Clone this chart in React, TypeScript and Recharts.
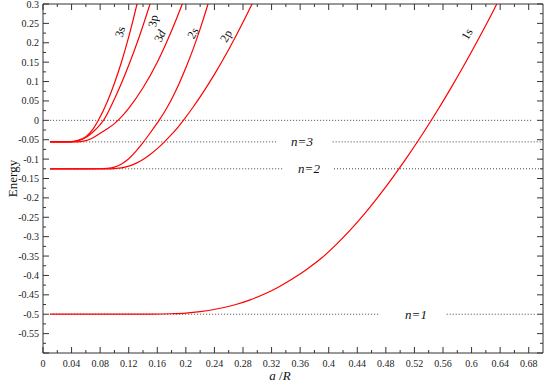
import { LineChart, Line, XAxis, YAxis, ReferenceDot } from 'recharts';

// energy levels (free atom)
const E_N1 = -0.5;
const E_N2 = -0.125;
const E_N3 = -0.0556;

// red curves: a/R and energy
const A_1S = [0.01, 0.1, 0.15, 0.18, 0.2, 0.22, 0.25, 0.27, 0.29, 0.31, 0.33, 0.35, 0.37, 0.39, 0.41, 0.43, 0.45, 0.47, 0.49, 0.51, 0.53, 0.55, 0.57, 0.59, 0.61, 0.63, 0.65];
const E_1S = [-0.5, -0.5, -0.4998, -0.4988, -0.4972, -0.4935, -0.484, -0.475, -0.463, -0.448, -0.4296, -0.408, -0.3832, -0.3552, -0.3212, -0.2832, -0.2412, -0.1952, -0.1462, -0.0942, -0.0392, 0.0188, 0.0798, 0.1438, 0.2108, 0.2808, 0.3538];

const A_2S = [0.01, 0.06, 0.08, 0.09, 0.1, 0.11, 0.12, 0.13, 0.14, 0.15, 0.16, 0.1625, 0.17, 0.18, 0.19, 0.2, 0.21, 0.22, 0.231, 0.236];
const E_2S = [-0.125, -0.125, -0.1248, -0.1238, -0.1205, -0.1125, -0.099, -0.08, -0.0575, -0.0327, -0.0067, 0, 0.0216, 0.0546, 0.0926, 0.1355, 0.183, 0.236, 0.3, 0.331];

const A_2P = [0.01, 0.09, 0.1, 0.11, 0.12, 0.13, 0.14, 0.15, 0.16, 0.17, 0.18, 0.19, 0.1965, 0.21, 0.22, 0.24, 0.26, 0.28, 0.2926, 0.3];
const E_2P = [-0.125, -0.125, -0.1243, -0.1225, -0.118, -0.111, -0.101, -0.088, -0.073, -0.0555, -0.0364, -0.0153, 0, 0.0338, 0.0605, 0.1186, 0.1826, 0.2527, 0.3, 0.329];

const A_3S = [0.01, 0.03, 0.04, 0.05, 0.06, 0.07, 0.0775, 0.09, 0.1, 0.11, 0.12, 0.1316, 0.135];
const E_3S = [-0.0556, -0.0555, -0.0548, -0.051, -0.042, -0.0226, 0, 0.048, 0.0955, 0.151, 0.215, 0.3, 0.327];

const A_3P = [0.01, 0.04, 0.05, 0.06, 0.07, 0.08, 0.0847, 0.1, 0.12, 0.135, 0.1498, 0.153];
const E_3P = [-0.0556, -0.0553, -0.0525, -0.0445, -0.03, -0.011, 0, 0.055, 0.142, 0.217, 0.3, 0.319];

const A_3D = [0.01, 0.04, 0.05, 0.06, 0.07, 0.08, 0.09, 0.1, 0.105, 0.12, 0.14, 0.16, 0.18, 0.1946, 0.2];
const E_3D = [-0.0556, -0.0556, -0.0553, -0.0522, -0.0448, -0.0335, -0.0215, -0.0085, 0, 0.031, 0.084, 0.15, 0.231, 0.298, 0.324];

// dotted reference levels: [start, end] in a/R
const ZERO_SEG = [[0.01, 0.686]];
const N3_SEG = [[0.01, 0.327], [0.4055, 0.698]];
const N2_SEG = [[0.01, 0.3355], [0.4074, 0.698]];
const N1_SEG = [[0.01, 0.4704], [0.5652, 0.689]];

const X_TICKS = [0, 0.02, 0.04, 0.06, 0.08, 0.1, 0.12, 0.14, 0.16, 0.18, 0.2, 0.22, 0.24, 0.26, 0.28, 0.3, 0.32, 0.34, 0.36, 0.38, 0.4, 0.42, 0.44, 0.46, 0.48, 0.5, 0.52, 0.54, 0.56, 0.58, 0.6, 0.62, 0.64, 0.66, 0.68];
const Y_TICKS = [-0.6, -0.575, -0.55, -0.525, -0.5, -0.475, -0.45, -0.425, -0.4, -0.375, -0.35, -0.325, -0.3, -0.275, -0.25, -0.225, -0.2, -0.175, -0.15, -0.125, -0.1, -0.075, -0.05, -0.025, 0, 0.025, 0.05, 0.075, 0.1, 0.125, 0.15, 0.175, 0.2, 0.225, 0.25, 0.275, 0.3];

const RED = '#ff0000';
const AXIS = '#333';
const FONT = '"Liberation Serif", "DejaVu Serif", serif';

const pts = (a: number[], e: number[]) => a.map((v, i) => ({ a: v, e: e[i] }));
const seg = (s: number[], e: number) => [{ a: s[0], e }, { a: s[1], e }];

const curves = [
  { id: '1s', data: pts(A_1S, E_1S) },
  { id: '2s', data: pts(A_2S, E_2S) },
  { id: '2p', data: pts(A_2P, E_2P) },
  { id: '3s', data: pts(A_3S, E_3S) },
  { id: '3p', data: pts(A_3P, E_3P) },
  { id: '3d', data: pts(A_3D, E_3D) },
];

const levels = [
  ...ZERO_SEG.map((s) => seg(s, 0)),
  ...N3_SEG.map((s) => seg(s, E_N3)),
  ...N2_SEG.map((s) => seg(s, E_N2)),
  ...N1_SEG.map((s) => seg(s, E_N1)),
];

const fmt = (v: number) => String(Number(v.toFixed(3)));
const isMajorX = (v: number) => Math.round(v * 100) % 4 === 0;
const isMajorY = (v: number) => Math.round(v * 1000) % 50 === 0;
const txt = { fontFamily: FONT };

function BottomTick({ x, y, payload }: any) {
  const major = isMajorX(payload.value);
  return (
    <g>
      <line x1={x} y1={y} x2={x} y2={y - (major ? 6 : 3)} stroke={AXIS} />
      {major && (
        <text x={x} y={y + 14} textAnchor="middle" fontSize={10} style={txt} fill="#222">
          {fmt(payload.value)}
        </text>
      )}
    </g>
  );
}

function TopTick({ x, y, payload }: any) {
  const major = isMajorX(payload.value);
  return <line x1={x} y1={y} x2={x} y2={y + (major ? 6 : 3)} stroke={AXIS} />;
}

function LeftTick({ x, y, payload }: any) {
  const v = payload.value;
  const major = isMajorY(v);
  return (
    <g>
      <line x1={x} y1={y} x2={x + (major ? 6 : 3)} y2={y} stroke={AXIS} />
      {major && v > -0.59 && (
        <text x={x - 4} y={y + 3.5} textAnchor="end" fontSize={10} style={txt} fill="#222">
          {fmt(v)}
        </text>
      )}
    </g>
  );
}

function RightTick({ x, y, payload }: any) {
  const major = isMajorY(payload.value);
  return <line x1={x} y1={y} x2={x - (major ? 6 : 3)} y2={y} stroke={AXIS} />;
}

const curveLabels = [
  { text: '3s', a: 0.1078, e: 0.228, angle: -75 },
  { text: '3p', a: 0.154, e: 0.256, angle: -80 },
  { text: '3d', a: 0.1638, e: 0.2175, angle: -65 },
  { text: '2s', a: 0.21, e: 0.225, angle: -60 },
  { text: '2p', a: 0.2562, e: 0.2175, angle: -60 },
  { text: '1s', a: 0.5936, e: 0.2226, angle: -60 },
];

const levelLabels = [
  { text: 'n=3', a: 0.3626, e: E_N3 },
  { text: 'n=2', a: 0.3724, e: E_N2 },
  { text: 'n=1', a: 0.5222, e: E_N1 },
];

const rotatedText = (text: string, angle: number) => (p: any) => (
  <text
    x={p.cx}
    y={p.cy}
    transform={`rotate(${angle} ${p.cx} ${p.cy})`}
    textAnchor="middle"
    dominantBaseline="central"
    fontSize={12}
    style={txt}
    fill="#111"
  >
    {text[0]}
    <tspan fontStyle={text[1] === 'd' ? 'italic' : 'normal'}>{text.slice(1)}</tspan>
  </text>
);

const italicText = (text: string) => (p: any) => (
  <text
    x={p.cx}
    y={p.cy}
    textAnchor="middle"
    dominantBaseline="central"
    fontSize={13}
    fontStyle="italic"
    style={txt}
    fill="#111"
  >
    {text}
  </text>
);

export default function App() {
  return (
    <div style={{ position: 'absolute', left: 0, top: 0, background: '#fff' }}>
      <LineChart width={545} height={382} margin={{ top: 3, right: 1, bottom: 0, left: 0 }}>
        <XAxis
          xAxisId={0}
          dataKey="a"
          type="number"
          domain={[0, 0.7]}
          ticks={X_TICKS}
          interval={0}
          allowDataOverflow
          height={29}
          tickSize={0}
          tickMargin={0}
          tickLine={false}
          axisLine={{ stroke: AXIS }}
          tick={BottomTick}
          label={{
            content: ({ viewBox }: any) => (
              <text
                x={viewBox.x + viewBox.width / 2 - 13}
                y={viewBox.y + 27}
                textAnchor="middle"
                fontSize={13}
                style={txt}
                fill="#111"
              >
                <tspan fontStyle="italic">a</tspan> /<tspan fontStyle="italic">R</tspan>
              </text>
            ),
          }}
        />
        <XAxis
          xAxisId="top"
          orientation="top"
          dataKey="a"
          type="number"
          domain={[0, 0.7]}
          ticks={X_TICKS}
          interval={0}
          allowDataOverflow
          height={1}
          tickSize={0}
          tickMargin={0}
          tickLine={false}
          axisLine={{ stroke: AXIS }}
          tick={TopTick}
        />
        <YAxis
          yAxisId={0}
          type="number"
          domain={[-0.6, 0.3]}
          ticks={Y_TICKS}
          interval={0}
          allowDataOverflow
          width={43}
          tickSize={0}
          tickMargin={0}
          tickLine={false}
          axisLine={{ stroke: AXIS }}
          tick={LeftTick}
          label={{
            content: ({ viewBox }: any) => {
              const cx = 12;
              const cy = viewBox.y + viewBox.height / 2;
              return (
                <text
                  x={cx}
                  y={cy}
                  transform={`rotate(-90 ${cx} ${cy})`}
                  textAnchor="middle"
                  dominantBaseline="central"
                  fontSize={13}
                  style={txt}
                  fill="#111"
                >
                  Energy
                </text>
              );
            },
          }}
        />
        <YAxis
          yAxisId="right"
          orientation="right"
          type="number"
          domain={[-0.6, 0.3]}
          ticks={Y_TICKS}
          interval={0}
          allowDataOverflow
          width={1}
          tickSize={0}
          tickMargin={0}
          tickLine={false}
          axisLine={{ stroke: AXIS }}
          tick={RightTick}
        />

        {/* invisible series so the mirrored top/right axes get drawn */}
        <Line
          xAxisId="top"
          yAxisId="right"
          data={levels[0]}
          dataKey="e"
          stroke="none"
          dot={false}
          activeDot={false}
          legendType="none"
          isAnimationActive={false}
        />

        {levels.map((d, i) => (
          <Line
            key={`lvl${i}`}
            data={d}
            dataKey="e"
            type="linear"
            stroke="#444"
            strokeWidth={1}
            strokeDasharray="1 2"
            dot={false}
            activeDot={false}
            isAnimationActive={false}
          />
        ))}

        {curves.map((c) => (
          <Line
            key={c.id}
            data={c.data}
            dataKey="e"
            type="monotone"
            stroke={RED}
            strokeWidth={1.2}
            dot={false}
            activeDot={false}
            isAnimationActive={false}
          />
        ))}

        {curveLabels.map((l) => (
          <ReferenceDot key={l.text} x={l.a} y={l.e} r={0} shape={rotatedText(l.text, l.angle)} />
        ))}
        {levelLabels.map((l) => (
          <ReferenceDot key={l.text} x={l.a} y={l.e} r={0} shape={italicText(l.text)} />
        ))}
      </LineChart>
    </div>
  );
}
